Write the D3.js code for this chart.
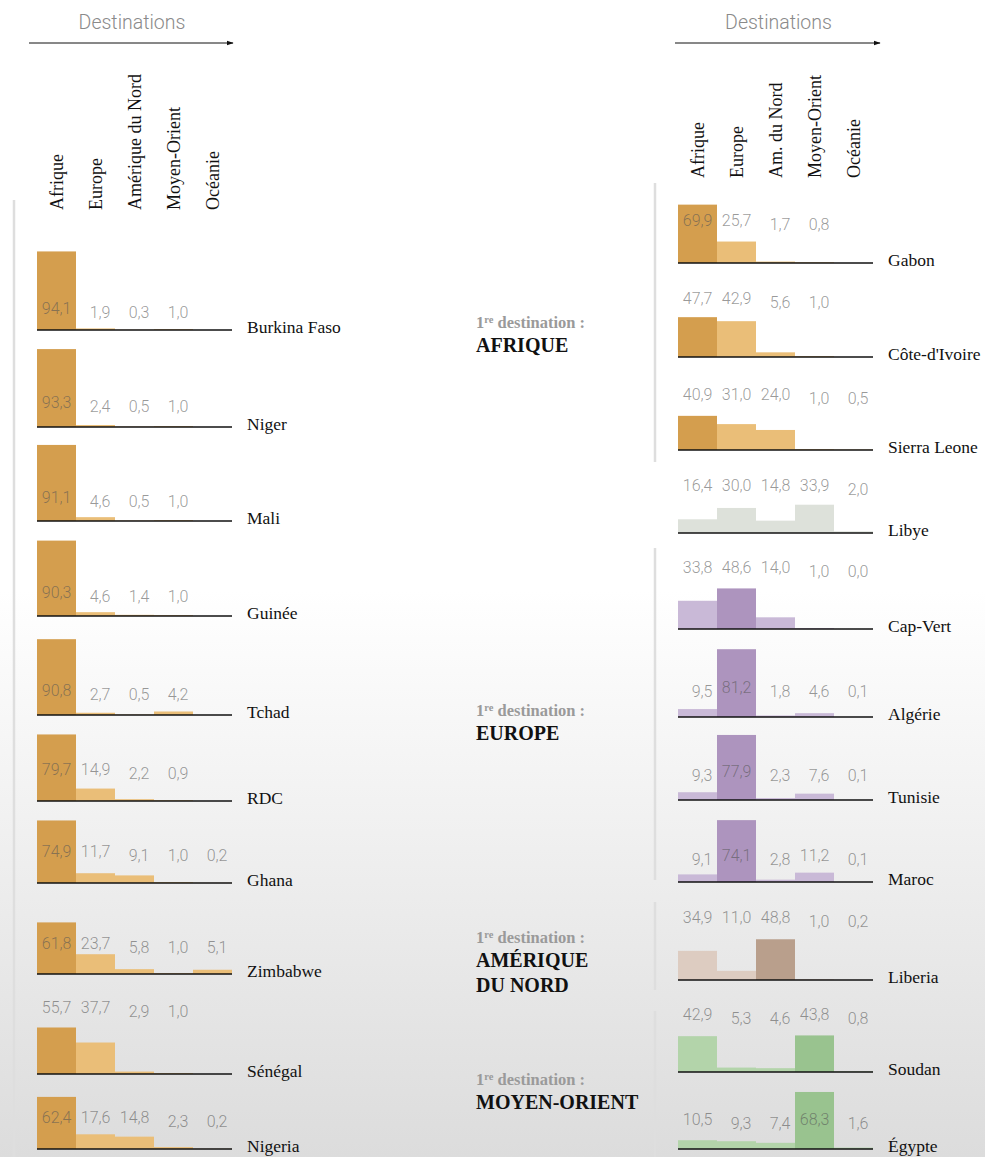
<!DOCTYPE html>
<head>
    <meta charset="utf-8">
    <title>1re destination des émigrés</title>
    <script src="https://d3js.org/d3.v7.min.js"></script>
    <style>
        body{ margin: 0; }
        text{ font-family: "Liberation Serif", "DejaVu Serif", serif; }
        text.head{
            font-family: "Helvetica Neue", Roboto, "Liberation Sans", sans-serif;
            font-weight: 300;
            font-size: 19.5px;
            fill: #8a8a8a;
        }
        text.colLabel{ font-size: 18px; fill: #111; }
        text.country{ font-size: 17.5px; fill: #111; }
        text.value{
            font-family: "Helvetica Neue", Roboto, "Liberation Sans", sans-serif;
            font-weight: 300;
            font-size: 16px;
            fill: #555;
            fill-opacity: 0.6;
        }
        text.groupSub{ font-size: 16.5px; font-weight: bold; fill: #9a9a9a; }
        text.groupName{ font-size: 20px; font-weight: bold; fill: #111; }
        line.base{ stroke: #111; stroke-width: 1.5; }
        line.arrow{ stroke: #111; stroke-width: 1; }
        line.bracket{ stroke: #dedede; stroke-width: 2.5; }
    </style>
</head>
<body>
<script>
    // columns (destinations)
    var destinations = ["Afrique", "Europe", "Amérique du Nord", "Moyen-Orient", "Océanie"];
    var headLeft = ["Afrique", "Europe", "Amérique du Nord", "Moyen-Orient", "Océanie"];
    var headRight = ["Afrique", "Europe", "Am. du Nord", "Moyen-Orient", "Océanie"];

    // left panel: all 1re destination Afrique
    var leftCountries = ["Burkina Faso", "Niger", "Mali", "Guinée", "Tchad", "RDC", "Ghana", "Zimbabwe", "Sénégal", "Nigeria"];
    var leftValues = [
        [94.1, 1.9, 0.3, 1.0, null],
        [93.3, 2.4, 0.5, 1.0, null],
        [91.1, 4.6, 0.5, 1.0, null],
        [90.3, 4.6, 1.4, 1.0, null],
        [90.8, 2.7, 0.5, 4.2, null],
        [79.7, 14.9, 2.2, 0.9, null],
        [74.9, 11.7, 9.1, 1.0, 0.2],
        [61.8, 23.7, 5.8, 1.0, 5.1],
        [55.7, 37.7, 2.9, 1.0, null],
        [62.4, 17.6, 14.8, 2.3, 0.2]
    ];

    // right panel
    var rightCountries = ["Gabon", "Côte-d'Ivoire", "Sierra Leone", "Libye", "Cap-Vert", "Algérie", "Tunisie", "Maroc", "Liberia", "Soudan", "Égypte"];
    var rightGroups = ["afrique", "afrique", "afrique", "mixte", "europe", "europe", "europe", "europe", "amerique", "moyen", "moyen"];
    var rightValues = [
        [69.9, 25.7, 1.7, 0.8, null],
        [47.7, 42.9, 5.6, 1.0, null],
        [40.9, 31.0, 24.0, 1.0, 0.5],
        [16.4, 30.0, 14.8, 33.9, 2.0],
        [33.8, 48.6, 14.0, 1.0, 0.0],
        [9.5, 81.2, 1.8, 4.6, 0.1],
        [9.3, 77.9, 2.3, 7.6, 0.1],
        [9.1, 74.1, 2.8, 11.2, 0.1],
        [34.9, 11.0, 48.8, 1.0, 0.2],
        [42.9, 5.3, 4.6, 43.8, 0.8],
        [10.5, 9.3, 7.4, 68.3, 1.6]
    ];

    // middle captions
    var groupNames = [["AFRIQUE"], ["EUROPE"], ["AMÉRIQUE", "DU NORD"], ["MOYEN-ORIENT"]];

    // ---- layout ----
    var W = 985, H = 1157;
    var leftBase = [330, 427, 521, 616, 715, 801, 883, 974, 1074, 1149];
    var leftLift = [16, 19, 18, 18, 19, 26, 26, 25, 61, 26];
    var rightBase = [263, 357, 450, 533, 629, 717, 800, 882, 980, 1072, 1149];
    var rightLift = [37, 53, 50, 42, 56, 24, 23, 21, 57, 52, 24];
    var groupY = [328, 716, 943, 1085];
    var brackets = [[655, 183, 462], [655, 548, 880], [655, 902, 990], [655, 1011, 1157], [14, 200, 1157]];

    var palette = {
        afrique: ["#EABE78", "#D49E4E"],
        europe: ["#C9B9D7", "#AD94BE"],
        mixte: ["#DDE1DA", "#DDE1DA"],
        amerique: ["#DDCCC1", "#B99F8C"],
        moyen: ["#B3D4AA", "#99C38F"]
    };

    var svg = d3.select("body").append("svg")
        .attr("width", W)
        .attr("height", H);

    var defs = svg.append("defs");
    var grad = defs.append("linearGradient")
        .attr("id", "bg").attr("x1", 0).attr("y1", 0).attr("x2", 0).attr("y2", 1);
    grad.append("stop").attr("offset", "0%").attr("stop-color", "#ffffff");
    grad.append("stop").attr("offset", "100%").attr("stop-color", "#dcdcdc");

    defs.append("marker")
        .attr("id", "arrow")
        .attr("viewBox", "0 0 10 10")
        .attr("refX", 9).attr("refY", 5)
        .attr("markerWidth", 7).attr("markerHeight", 7)
        .attr("orient", "auto")
        .append("path")
        .attr("d", "M0,1.5 L10,5 L0,8.5 Z")
        .attr("fill", "#111");

    svg.append("rect").attr("width", W).attr("height", H).attr("fill", "#fff");
    svg.append("rect").attr("y", 590).attr("width", W).attr("height", H - 590).attr("fill", "url(#bg)");

    // bar height scale (percent -> px)
    var h = d3.scaleLinear().domain([0, 100]).range([0, 83.5]);

    // gray brackets
    svg.selectAll("line.bracket")
        .data(brackets)
        .enter()
        .append("line")
        .attr("class", "bracket")
        .attr("x1", d => d[0]).attr("x2", d => d[0])
        .attr("y1", d => d[1]).attr("y2", d => d[2]);

    function panel(x0, arrow, headers, headBottom, countries, values, groups, bases, lifts) {
        var x = d3.scaleBand()
            .domain(destinations)
            .range([x0, x0 + 195]);

        var g = svg.append("g");

        // Destinations arrow
        g.append("text")
            .attr("class", "head")
            .attr("x", (arrow[0] + arrow[1]) / 2 + 1)
            .attr("y", 29)
            .style("text-anchor", "middle")
            .text("Destinations");

        g.append("line")
            .attr("class", "arrow")
            .attr("x1", arrow[0]).attr("x2", arrow[1])
            .attr("y1", 43).attr("y2", 43)
            .attr("marker-end", "url(#arrow)");

        // rotated column labels
        g.selectAll("text.colLabel")
            .data(destinations)
            .enter()
            .append("text")
            .attr("class", "colLabel")
            .attr("transform", (d, i) => `translate(${x(d) + x.bandwidth() / 2 + 6},${headBottom}) rotate(-90)`)
            .text((d, i) => headers[i]);

        countries.forEach(function(name, r) {
            var base = bases[r];
            var vals = values[r];
            var cols = palette[groups[r]];
            var maxV = d3.max(vals);
            var row = g.append("g");

            var cells = destinations.map((d, i) => ({dest: d, v: vals[i]}))
                .filter(c => c.v !== null);

            row.selectAll("rect")
                .data(cells)
                .enter()
                .append("rect")
                .attr("x", c => x(c.dest))
                .attr("width", x.bandwidth())
                .attr("y", c => base - h(c.v))
                .attr("height", c => h(c.v))
                .attr("fill", c => c.v === maxV ? cols[1] : cols[0]);

            row.append("line")
                .attr("class", "base")
                .attr("x1", x0).attr("x2", x0 + 195)
                .attr("y1", base).attr("y2", base);

            row.selectAll("text.value")
                .data(cells)
                .enter()
                .append("text")
                .attr("class", "value")
                .attr("x", c => x(c.dest) + x.bandwidth() / 2 + 15)
                .attr("y", c => base - lifts[r] + (c.v < 10 ? 4 : 0))
                .style("text-anchor", "end")
                .text(c => d3.format(".1f")(c.v).replace(".", ","));

            row.append("text")
                .attr("class", "country")
                .attr("x", x0 + 210)
                .attr("y", base + 3)
                .text(name);
        });
    }

    panel(37, [29, 233], headLeft, 210, leftCountries, leftValues,
        leftCountries.map(() => "afrique"), leftBase, leftLift);
    panel(678, [675, 880], headRight, 178, rightCountries, rightValues,
        rightGroups, rightBase, rightLift);

    // middle captions
    groupNames.forEach(function(lines, i) {
        var sub = svg.append("text")
            .attr("class", "groupSub")
            .attr("x", 476)
            .attr("y", groupY[i]);
        sub.append("tspan").text("1");
        sub.append("tspan")
            .attr("baseline-shift", "super")
            .style("font-size", "10.5px")
            .text("re");
        sub.append("tspan").text(" destination :");

        lines.forEach(function(t, j) {
            svg.append("text")
                .attr("class", "groupName")
                .attr("x", 476)
                .attr("y", groupY[i] + 24 + j * 25)
                .text(t);
        });
    });
</script>
</body>
